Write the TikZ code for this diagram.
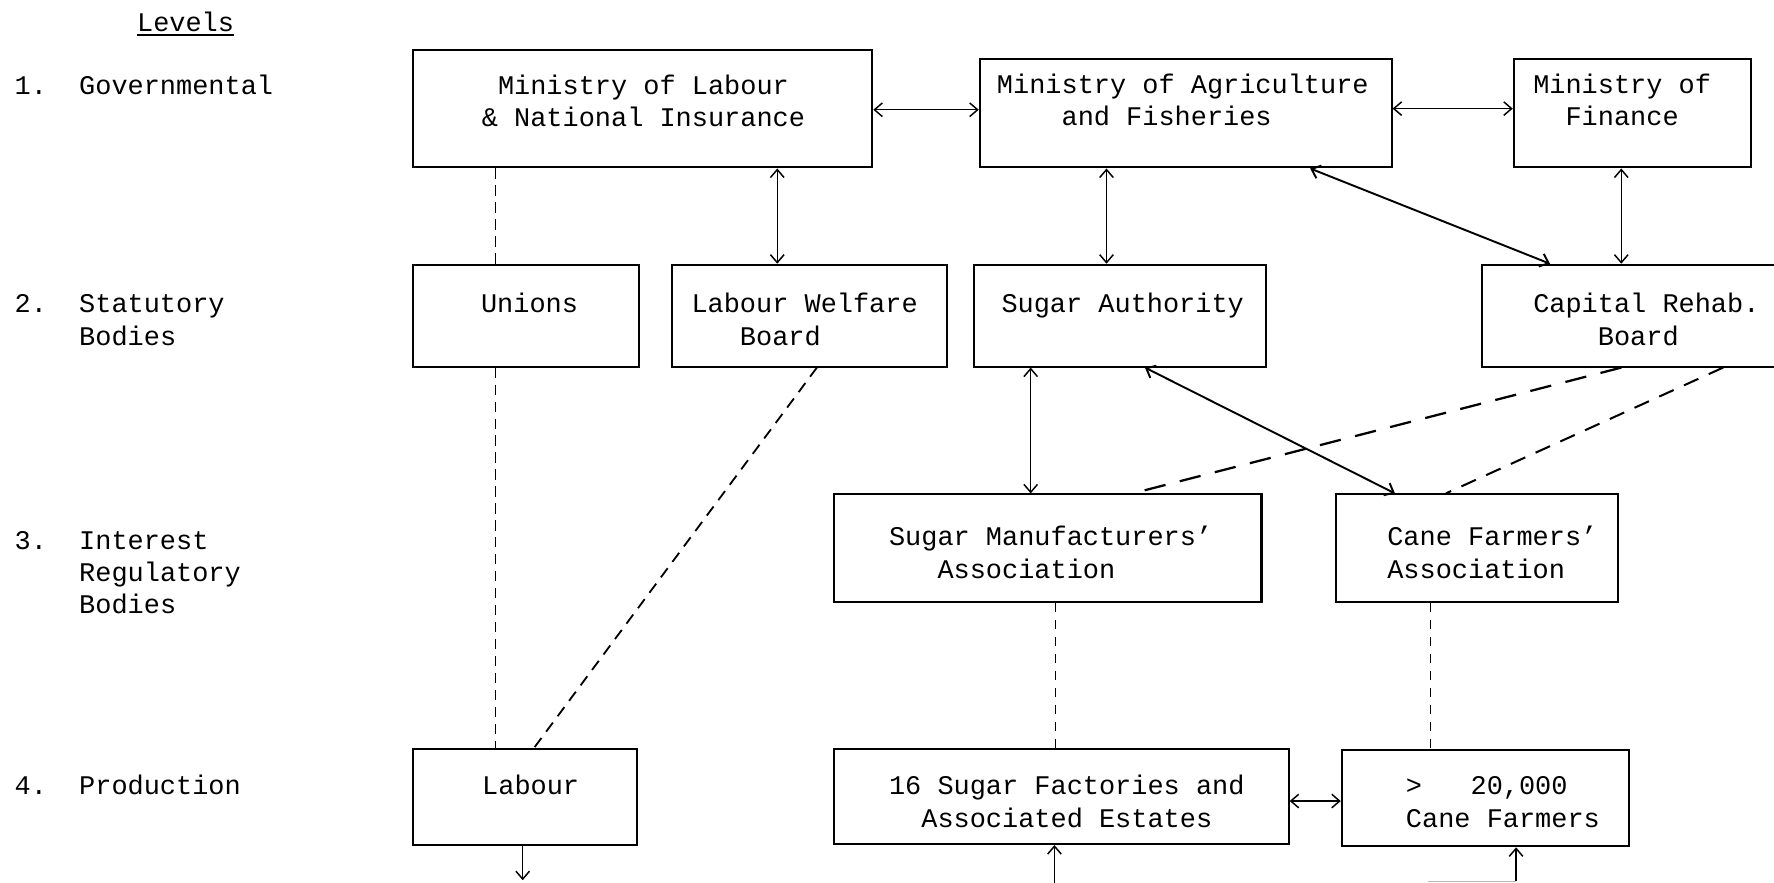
\documentclass[tikz,border=0pt]{standalone}
\usepackage{fontspec}
\newfontfamily\tw{Liberation Mono}
\usetikzlibrary{arrows.meta}
\newcommand\lns[1]{\begin{tabular}[t]{@{}l@{}}#1\end{tabular}}
\tikzset{
  box/.style={draw, line width=1.8pt, inner sep=0pt},
  txt/.style={font=\tw\fontsize{23.8pt}{28.5pt}\selectfont, inner sep=0pt, anchor=base west},
  con/.style={line width=1.3pt},
  con2/.style={line width=1.7pt},
  dsh/.style={line width=1.2pt, dash pattern=on 9pt off 6pt},
  dsh2/.style={line width=1.6pt, dash pattern=on 10pt off 7pt},
  dsh3/.style={line width=2pt, dash pattern=on 19pt off 13pt},
  dsh4/.style={line width=1.8pt, dash pattern=on 14pt off 10pt},
  dsh5/.style={line width=1.1pt, dash pattern=on 8pt off 7pt},
  >={Straight Barb[length=7pt,width=12pt]}
}
\begin{document}
\begin{tikzpicture}[x=1pt, y=-1pt]
\useasboundingbox[fill=white] (0,0) rectangle (1568,780);

% level labels
\node[txt] (levT) at (121,27.5) {Levels};
\draw[line width=1.5pt] ([yshift=-3.5pt]levT.base west) -- ([yshift=-3.5pt]levT.base east);
\node[txt] (l1) at (12.7,83.5) {\lns{1.~~Governmental}};
\node[txt] (l2) at (12.7,276.5) {\lns{2.~~Statutory\\\hphantom{2.~~}Bodies}};
\node[txt] (l3) at (12.7,485.5) {\lns{3.~~Interest\\\hphantom{2.~~}Regulatory\\\hphantom{2.~~}Bodies}};
\node[txt] (l4) at (12.7,702.5) {\lns{4.~~Production}};

% boxes
\node[box, minimum width=406pt, minimum height=104pt] (mlab) at (568,96) {};
\node[box, minimum width=364pt, minimum height=96pt] (magr) at (1048,100) {};
\node[box, minimum width=210pt, minimum height=96pt] (mfin) at (1443,100) {};
\node[box, minimum width=200pt, minimum height=90pt] (unions) at (465,279) {};
\node[box, minimum width=243pt, minimum height=90pt] (lwb) at (715.5,279) {};
\node[box, minimum width=258pt, minimum height=90pt] (sauth) at (990,279) {};
\node[box, minimum width=280pt, minimum height=90pt] (crb) at (1450,279) {};
\node[box, minimum width=378pt, minimum height=95pt] (sma) at (926,484.5) {};
\node[box, minimum width=249pt, minimum height=95pt] (cfa) at (1305.5,484.5) {};
\node[box, minimum width=198pt, minimum height=85pt] (labour) at (464,704.5) {};
\node[box, minimum width=402pt, minimum height=84pt] (sfact) at (938,704) {};
\node[box, minimum width=254pt, minimum height=85pt] (cfarm) at (1313,705.5) {};

% box texts
\node[txt] (mlabT) at (425.7,83.5) {\lns{\hphantom{M}Ministry of Labour\\\& National Insurance}};
\node[txt] (magrT) at (881,82.5) {\lns{Ministry of Agriculture\\\hphantom{MMMM}and Fisheries}};
\node[txt] (mfinT) at (1355,82.5) {\lns{Ministry of\\\hphantom{MM}Finance}};
\node[txt] (unionsT) at (425,276.5) {\lns{Unions}};
\node[txt] (lwbT) at (611,276.5) {\lns{Labour Welfare\\\hphantom{MMM}Board}};
\node[txt] (sauthT) at (885,276.5) {\lns{Sugar Authority}};
\node[txt] (crbT) at (1355,276.5) {\lns{Capital Rehab.\\\hphantom{MMMM}Board}};
\node[txt] (smaT) at (785.6,482.5) {\lns{Sugar Manufacturers’\\\hphantom{MMM}Association}};
\node[txt] (cfaT) at (1226,482.5) {\lns{Cane Farmers’\\Association}};
\node[txt] (labourT) at (426,702.5) {\lns{Labour}};
\node[txt] (sfactT) at (785.6,702.5) {\lns{16 Sugar Factories and\\\hphantom{MM}Associated Estates}};
\node[txt] (cfarmT) at (1242.5,702.5) {\lns{>~~~20,000\\Cane Farmers}};

% connectors level 1
\draw[con,<->] ([yshift=3pt]magr.west -| mlab.east) -- ([yshift=3pt]magr.west);
\draw[con,<->] ([yshift=4pt]mfin.west -| magr.east) -- ([yshift=4pt]mfin.west);
\draw[con,<->] ([xshift=-28.5pt]lwb.north |- mlab.south) -- ([xshift=-28.5pt]lwb.north);
\draw[dsh] ([xshift=-27pt]unions.north |- mlab.south) -- ([xshift=-27pt]unions.north);
\draw[con,<->] ([xshift=-12pt]sauth.north |- magr.south) -- ([xshift=-12pt]sauth.north);
\draw[con2,<->] ([xshift=110pt]magr.south) -- ([xshift=-80pt]crb.north);
\draw[con,<->] ([xshift=-17pt]crb.north |- mfin.south) -- ([xshift=-17pt]crb.north);

% level 2 to 3/4
\draw[dsh] ([xshift=-27pt]unions.south) -- ([xshift=-27pt]unions.south |- labour.north);
\draw[dsh2] ([xshift=6.5pt]lwb.south) -- ([xshift=8pt]labour.north);
\draw[con,<->] ([xshift=-79pt]sauth.south) -- ([xshift=-79pt]sauth.south |- sma.north);
\draw[con2,<->] ([xshift=22pt]sauth.south) -- ([xshift=-72.5pt]cfa.north);
\draw[dsh3] ([xshift=-17pt]crb.south) -- ([xshift=75pt]sma.north);
\draw[dsh4] ([xshift=73pt]crb.south) -- ([xshift=-27.5pt]cfa.north);

% level 3 to 4
\draw[dsh5] ([xshift=7pt]sma.south) -- ([xshift=7pt]sma.south |- sfact.north);
\draw[dsh5] ([xshift=-41pt]cfa.south) -- ([xshift=-41pt]cfa.south |- cfarm.north);
\draw[con,<->] ([yshift=-4pt]sfact.east) -- ([yshift=-4pt]sfact.east -| cfarm.west);

% bottom connectors
\coordinate (labOut) at (462,778);
\draw[con,->] (labour.south -| labOut) -- (labOut);
\coordinate (sfIn) at (932,781);
\draw[con,->] (sfIn) -- (sfIn |- sfact.south);
\coordinate (cfIn) at (1262,779);
\coordinate (cfCorner) at (1340,779);
\draw[con, gray!55] (cfIn) -- (cfCorner);
\draw[con,->] (cfCorner) -- (cfCorner |- cfarm.south);
\end{tikzpicture}
\end{document}
